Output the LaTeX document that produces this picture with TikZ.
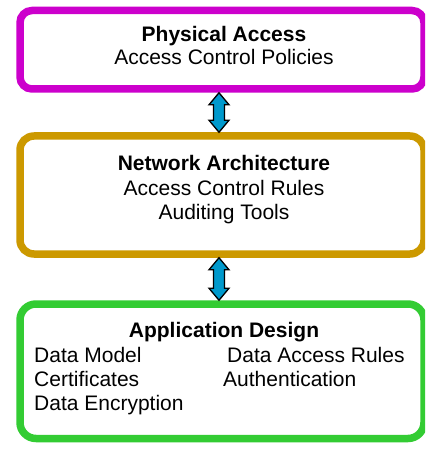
\documentclass[tikz,border=0pt]{standalone}
\usepackage{fontspec}
\setmainfont{Liberation Sans}
\usetikzlibrary{calc}
\definecolor{layerphys}{HTML}{CC00CC}
\definecolor{layernet}{HTML}{CC9900}
\definecolor{layerapp}{HTML}{33CC33}
\definecolor{linkblue}{HTML}{0099CC}
\tikzset{
  layer/.style={draw=#1, line width=7.5pt, fill=white, minimum width=404pt, inner sep=0pt},
  txt/.style={anchor=base, inner sep=0pt, font=\fontsize{21}{24}\selectfont},
  hd/.style={txt, font=\fontsize{21}{24}\selectfont\bfseries},
  lft/.style={txt, anchor=base west},
}
% two-headed block arrow between two points (top tip, bottom tip)
\newcommand\linkarrow[2]{%
  \path let \p1=(#1), \p2=(#2) in
    [draw=black, fill=linkblue, line width=1.3pt, line join=miter]
    (\x1,\y1) -- (\x1+10pt,\y1-12pt) -- (\x1+5.5pt,\y1-12pt)
    -- (\x2+5.5pt,\y2+12pt) -- (\x2+10pt,\y2+12pt) -- (\x2,\y2)
    -- (\x2-10pt,\y2+12pt) -- (\x2-5.5pt,\y2+12pt)
    -- (\x1-5.5pt,\y1-12pt) -- (\x1-10pt,\y1-12pt) -- cycle;}
\begin{document}
\begin{tikzpicture}[x=1pt, y=-1pt]
\clip (0,0) rectangle (425,449);
\fill[white] (0,0) rectangle (425,449);

% the three layers
\node[layer=layerphys, minimum height=78.5pt, rounded corners=12pt] (phys) at (222,49.75) {};
\node[layer=layernet, minimum height=118pt, rounded corners=14pt] (net) at (222,195) {};
\node[layer=layerapp, minimum height=134.5pt, rounded corners=16pt] (app) at (222,371.25) {};

% links between layers
\coordinate (ax) at (219,0);
\linkarrow{phys.south -| ax}{net.north -| ax}
\linkarrow{net.south -| ax}{app.north -| ax}

% physical access
\node[hd] (physT) at (224,42) {Physical Access};
\node[txt] (physA) at (224,65) {Access Control Policies};

% network architecture
\node[hd] (netT) at (224,171) {Network Architecture};
\node[txt] (netA) at (224,195) {Access Control Rules};
\node[txt] (netB) at (224,219) {Auditing Tools};

% application design
\node[hd] (appT) at (224,337) {Application Design};
\node[lft] (appA) at (34,362) {Data Model};
\node[lft] (appB) at (34,386) {Certificates};
\node[lft] (appC) at (34,410) {Data Encryption};
\node[lft] (appD) at (227,362) {Data Access Rules};
\node[lft] (appE) at (223,386) {Authentication};
\end{tikzpicture}
\end{document}
